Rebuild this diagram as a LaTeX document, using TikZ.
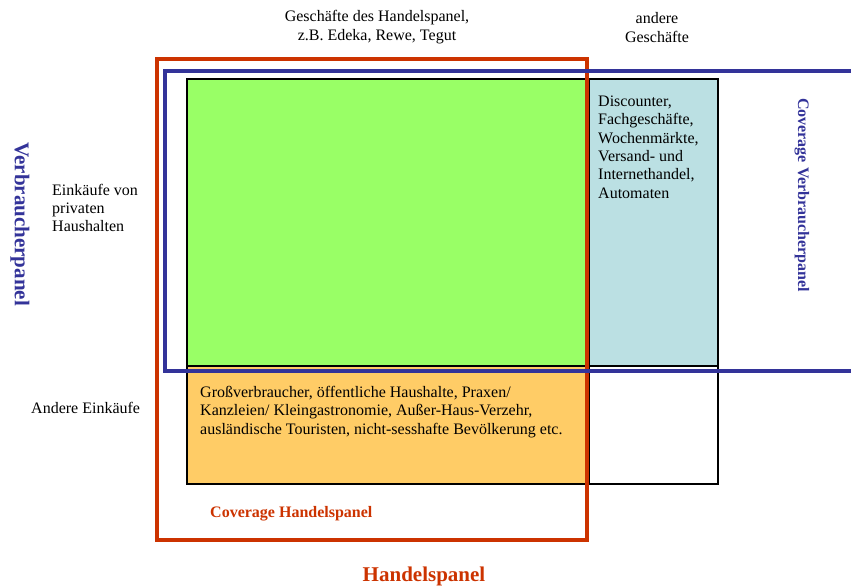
\documentclass[tikz,border=0pt]{standalone}
\usepackage{fontspec}
\setmainfont{Liberation Serif}
\definecolor{hpred}{HTML}{CC3300}
\definecolor{vpblue}{HTML}{333399}
\definecolor{boxgreen}{HTML}{99FF66}
\definecolor{boxcyan}{HTML}{BBE0E3}
\definecolor{boxorange}{HTML}{FFCC66}
\tikzset{
  cell/.style={draw=black, line width=2pt},
  txt/.style={font=\fontsize{16}{18.4}\selectfont, inner sep=0pt, align=left},
  txtc/.style={font=\fontsize{16}{19}\selectfont, inner sep=0pt, align=center},
  redlabel/.style={text=hpred, font=\fontsize{16}{18}\selectfont\bfseries, inner sep=0pt},
  bluelabel/.style={text=vpblue, font=\fontsize{16}{18}\selectfont\bfseries, inner sep=0pt, rotate=-90},
  bigred/.style={text=hpred, font=\fontsize{21}{24}\selectfont\bfseries, inner sep=0pt},
  bigblue/.style={text=vpblue, font=\fontsize{21}{24}\selectfont\bfseries, inner sep=0pt, rotate=-90},
}
\begin{document}
\begin{tikzpicture}[x=1pt,y=-1pt]
\useasboundingbox (0,0) rectangle (851,588);
% cells
\draw[cell, fill=boxgreen] (187,79) rectangle (589,366);
\draw[cell, fill=boxcyan] (589,79) rectangle (718,366);
\draw[cell, fill=boxorange] (187,366) rectangle (589,484);
\draw[cell, fill=white] (589,366) rectangle (718,484);
% red frame (Handelspanel)
\draw[hpred, line width=4pt] (157,59) rectangle (587,540);
% blue frame (Verbraucherpanel), open to the right
\draw[vpblue, line width=4pt] (852,71.5) -- (165,71.5) -- (165,371) -- (852,371);
% texts
\node[txtc] (hdr1) at (377,27.5) {Geschäfte des Handelspanel,\\z.B. Edeka, Rewe, Tegut};
\node[txtc] (hdr2) at (657,27.5) {andere\\Geschäfte};
\node[bigblue] (vp) at (20,224) {Verbraucherpanel};
\node[txt, anchor=west] (priv) at (52,208) {Einkäufe von\\privaten\\Haushalten};
\node[txt, anchor=west] (andere) at (31,408) {Andere Einkäufe};
\node[txt, anchor=west] (disc) at (598,147) {Discounter,\\Fachgeschäfte,\\Wochenmärkte,\\Versand- und\\Internethandel,\\Automaten};
\node[txt, anchor=west] (gross) at (200,412) {Großverbraucher, öffentliche Haushalte, Praxen/\\Kanzleien/ Kleingastronomie, Außer-Haus-Verzehr,\\ausländische Touristen, nicht-sesshafte Bevölkerung etc.};
\node[redlabel, anchor=west] (covh) at (210,514) {Coverage Handelspanel};
\node[bluelabel] (covv) at (802,195) {Coverage Verbraucherpanel};
\node[bigred] (hp) at (424,576) {Handelspanel};
\end{tikzpicture}
\end{document}
